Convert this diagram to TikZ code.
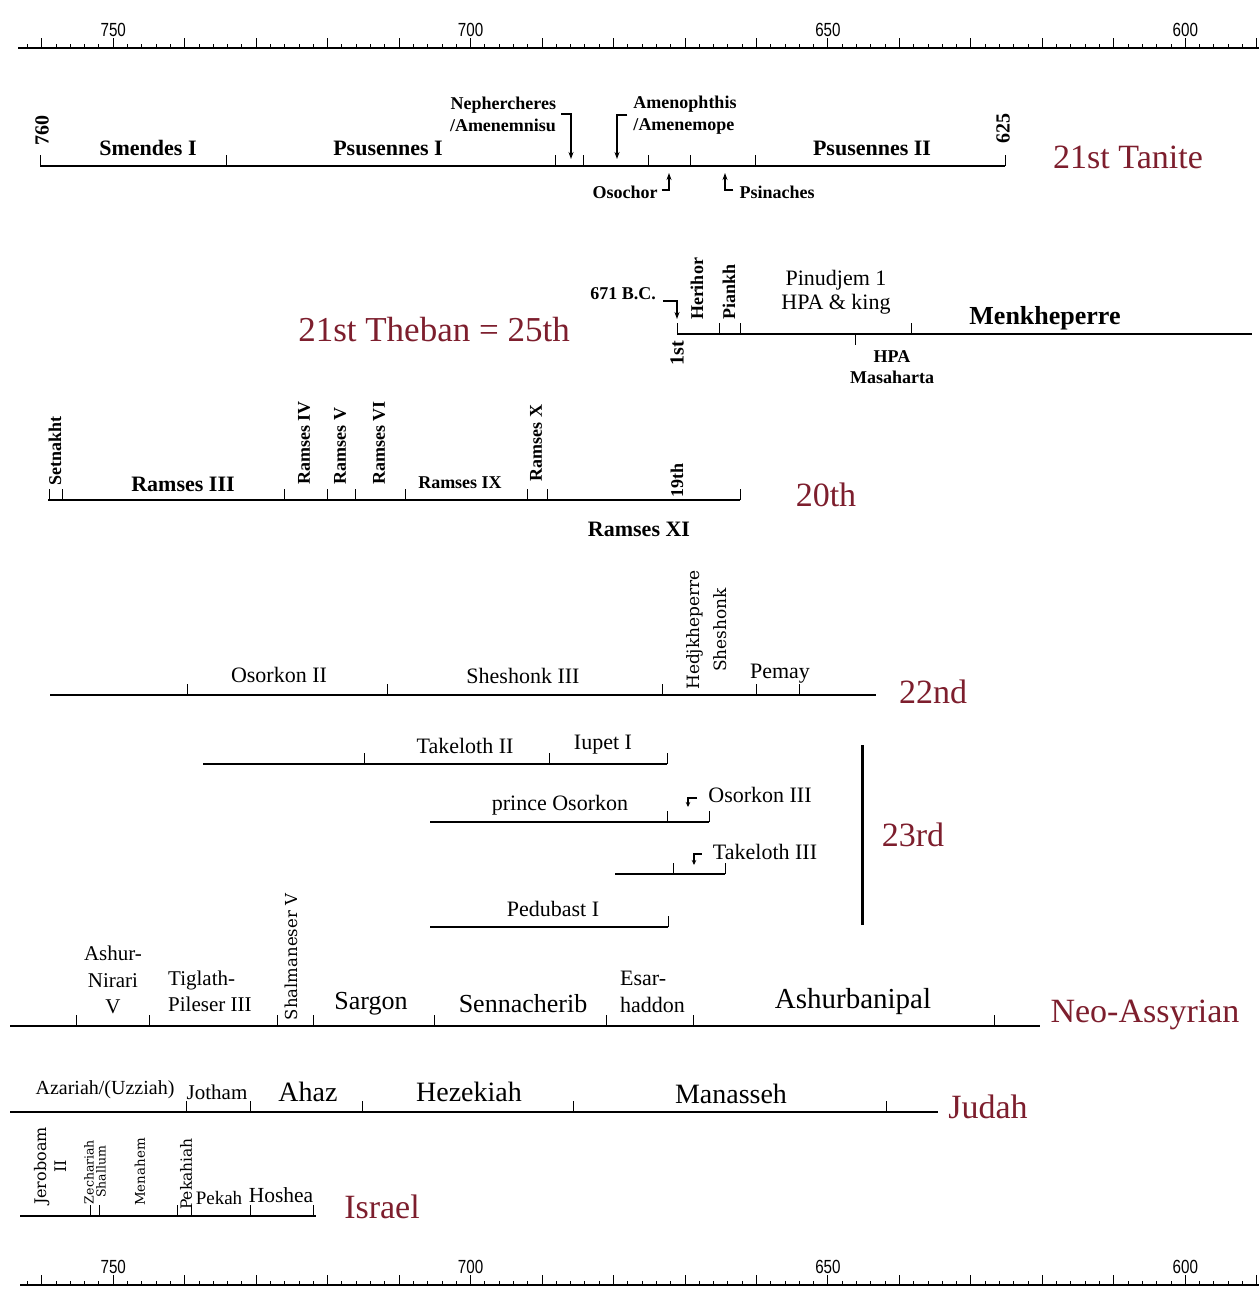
\documentclass[tikz,border=0pt]{standalone}
\usepackage{fontspec}
\usepackage{graphicx}
\setmainfont{Liberation Serif}
\newfontfamily\dvsf{DejaVu Serif}
\newfontfamily\axf{Liberation Sans}
\usetikzlibrary{arrows.meta}
\definecolor{dynred}{RGB}{125,30,45}
\begin{document}
\begin{tikzpicture}[x=1pt,y=-1pt,
  tl/.style={line width=2.6pt},
  tk/.style={line width=1pt},
  axl/.style={line width=1.3pt},
  arr/.style={line width=1.1pt,-{Stealth[length=7pt,width=5pt]}},
  sarr/.style={line width=1.2pt,-{Stealth[length=5pt,width=4.5pt]}},
  B/.style={font=\bfseries\fontsize{22}{24}\selectfont,inner sep=0pt},
  b/.style={font=\bfseries\fontsize{18}{22}\selectfont,inner sep=0pt},
  R/.style={font=\fontsize{22}{24}\selectfont,inner sep=0pt},
  dv/.style={font=\dvsf\fontsize{17}{27}\selectfont,inner sep=0pt},
  dyn/.style={text=dynred,font=\fontsize{34}{38}\selectfont,inner sep=0pt},
  axlab/.style={font=\axf\fontsize{19}{20}\selectfont,inner sep=0pt}
]
\useasboundingbox (0,0) rectangle (1259,1290);
\fill[white] (0,0) rectangle (1259,1290);

% ---------- axes ----------
\draw[axl] (18,48) -- (1259,48);
\draw[axl] (20,1285) -- (1259,1285);
\foreach \yr in {590,592,...,762}{
  \pgfmathsetmacro\xx{470.6+(700-\yr)*7.147}
  \pgfmathsetmacro\hh{mod(\yr,10)==0 ? 10 : 4}
  \draw[tk] (\xx,48) -- (\xx,48-\hh);
  \draw[tk] (\xx,1285) -- (\xx,1285-\hh);
}
\foreach \yr/\nm in {750/a,700/b,650/c,600/d}{
  \pgfmathsetmacro\xx{470.6+(700-\yr)*7.147}
  \node[axlab] (top\nm) at (\xx,30) {\scalebox{0.8}[1]{\yr}};
  \node[axlab] (bot\nm) at (\xx,1267) {\scalebox{0.8}[1]{\yr}};
}

% ---------- 21st Tanite ----------
\draw[tl] (40,166) -- (1005,166);
\foreach \x in {40,226,555,583,648,690,755,1005} \draw[tk] (\x,166) -- (\x,155);
\node[b,font=\bfseries\fontsize{20}{22}\selectfont,rotate=90] (y760) at (42,130) {760};
\node[B] (smendes) at (148,148) {Smendes I};
\node[B] (psus1) at (388,148) {Psusennes I};
\node[b,align=right] (neph) at (503,114) {Nephercheres\\/Amenemnisu};
\node[b,align=left] (amen) at (685,115) {Amenophthis\\/Amenemope};
\node[b] (osoch) at (625,192) {Osochor};
\node[b] (psin) at (777,192) {Psinaches};
\node[B] (psus2) at (872,148) {Psusennes II};
\node[b,font=\bfseries\fontsize{20}{22}\selectfont,rotate=90] (y625) at (1003,128) {625};
\node[dyn] (tanite) at (1128,157) {21st Tanite};
\coordinate (nephpt) at (571,159);
\coordinate (amenpt) at (617,159);
\coordinate (osopt) at (669,173);
\coordinate (psinpt) at (725,173);
\draw[arr] ([xshift=5pt]neph.east) -| (nephpt);
\draw[arr] ([xshift=-6pt]amen.west) -| (amenpt);
\draw[arr] ([xshift=4pt,yshift=2pt]osoch.east) -| (osopt);
\draw[arr] ([xshift=-6pt,yshift=2pt]psin.west) -| (psinpt);

% ---------- 21st Theban ----------
\draw[tl] (677,334) -- (1252,334);
\foreach \x in {677,719,740,911} \draw[tk] (\x,334) -- (\x,323);
\draw[tk] (855,334) -- (855,345);
\node[b] (bc) at (623,294) {671 B.C.};
\coordinate (bcpt) at (677,319);
\draw[arr] ([xshift=7pt,yshift=-7pt]bc.east) -| (bcpt);
\node[b,rotate=90] (herihor) at (697,289) {Herihor};
\node[b,rotate=90] (piankh) at (729,292) {Piankh};
\node[R,align=center] (pinud) at (836,292) {Pinudjem 1\\HPA \& king};
\node[font=\bfseries\fontsize{26}{28}\selectfont,inner sep=0pt] (menk) at (1045,318) {Menkheperre};
\node[b,font=\bfseries\fontsize{20}{22}\selectfont,rotate=90] (first) at (677,353) {1st};
\node[b,align=center,font=\bfseries\fontsize{18}{21}\selectfont] (hpa) at (892,367) {HPA\\Masaharta};
\node[dyn,font=\fontsize{35}{38}\selectfont] (theban) at (434,330) {21st Theban = 25th};

% ---------- 20th ----------
\draw[tl] (48,500) -- (740,500);
\foreach \x in {49,62,284,327,355,405,527,547,740} \draw[tk] (\x,500) -- (\x,489);
\node[b,rotate=90] (setn) at (55,451) {Setnakht};
\node[B] (r3) at (183,484) {Ramses III};
\node[b,rotate=90] (r4) at (304,443) {Ramses IV};
\node[b,rotate=90] (r5) at (340,446) {Ramses V};
\node[b,rotate=90] (r6) at (379,443) {Ramses VI};
\node[b] (r9) at (460,483) {Ramses IX};
\node[b,rotate=90] (r10) at (536,443) {Ramses X};
\node[b,rotate=90] (n19) at (677,480) {19th};
\node[B] (r11) at (639,529) {Ramses XI};
\node[dyn] (d20) at (826,495) {20th};

% ---------- 22nd ----------
\draw[tl] (50,695) -- (876,695);
\foreach \x in {187,387,662,756,799} \draw[tk] (\x,695) -- (\x,684);
\node[R] (o2) at (279,675) {Osorkon II};
\node[R] (s3) at (523,676) {Sheshonk III};
\node[dv,rotate=90,align=center] (hedj) at (707,630) {Hedjkheperre\\Sheshonk};
\node[R] (pemay) at (780,674) {Pemay};
\node[dyn] (d22) at (933,692) {22nd};

% ---------- 23rd ----------
\draw[tl] (203,764) -- (667,764);
\foreach \x in {364,549,667} \draw[tk] (\x,764) -- (\x,753);
\node[R] (tk2) at (465,746) {Takeloth II};
\node[R] (iup) at (603,745) {Iupet I};
\draw[tl] (430,822) -- (709,822);
\foreach \x in {667,709} \draw[tk] (\x,822) -- (\x,811);
\node[R] (posk) at (560,805) {prince Osorkon};
\node[R] (o3) at (760,795) {Osorkon III};
\coordinate (o3pt) at (688,807);
\draw[sarr] ([xshift=-11pt,yshift=-3pt]o3.west) -| (o3pt);
\draw[tl] (615,874) -- (725,874);
\foreach \x in {673,725} \draw[tk] (\x,874) -- (\x,863);
\node[R] (tk3) at (765,852) {Takeloth III};
\coordinate (tk3pt) at (694,865);
\draw[sarr] ([xshift=-11pt,yshift=-2pt]tk3.west) -| (tk3pt);
\draw[tl] (430,927) -- (668,927);
\draw[tk] (668,927) -- (668,916);
\node[R] (ped) at (553,909) {Pedubast I};
\draw[line width=3pt] (862,745) -- (862,925);
\node[dyn] (d23) at (913,835) {23rd};

% ---------- Neo-Assyrian ----------
\draw[tl] (10,1026) -- (1040,1026);
\foreach \x in {76,149,277,313,434,606,693,994} \draw[tk] (\x,1026) -- (\x,1015);
\node[R,align=center,font=\fontsize{21}{26.5}\selectfont] (ashn) at (113,980) {Ashur-\\Nirari\\V};
\node[R,align=left,font=\fontsize{21}{26}\selectfont,anchor=west] (tigl) at (168,991) {Tiglath-\\Pileser III};
\node[dv,font=\dvsf\fontsize{16.5}{20}\selectfont,rotate=90] (shal) at (291,957) {Shalmaneser V};
\node[R,font=\fontsize{26}{28}\selectfont] (sarg) at (371,1004) {Sargon};
\node[R,font=\fontsize{26}{28}\selectfont] (senn) at (523,1004) {Sennacherib};
\node[R,align=left,anchor=west,font=\fontsize{22}{27}\selectfont] (esar) at (620,992) {Esar-\\haddon};
\node[R,font=\fontsize{29}{31}\selectfont] (ashb) at (853,1002) {Ashurbanipal};
\node[dyn] (neo) at (1145,1015) {Neo-Assyrian};

% ---------- Judah ----------
\draw[tl] (10,1112) -- (938,1112);
\foreach \x in {186,250,362,573,886} \draw[tk] (\x,1112) -- (\x,1101);
\node[R,font=\fontsize{20}{22}\selectfont] (az) at (105,1090) {Azariah/(Uzziah)};
\node[R,font=\fontsize{21}{23}\selectfont] (joth) at (217,1092) {Jotham};
\node[R,font=\fontsize{28}{30}\selectfont] (ahaz) at (308,1092) {Ahaz};
\node[R,font=\fontsize{28}{30}\selectfont] (hez) at (469,1092) {Hezekiah};
\node[R,font=\fontsize{28}{30}\selectfont] (man) at (731,1094) {Manasseh};
\node[dyn] (judah) at (988,1107) {Judah};

% ---------- Israel ----------
\draw[tl] (20,1216) -- (316,1216);
\foreach \x in {90,99,177,191,250,313} \draw[tk] (\x,1216) -- (\x,1205);
\node[dv,font=\dvsf\fontsize{16}{20}\selectfont,rotate=90,align=center] (jer) at (50,1166) {Jeroboam\\II};
\node[dv,font=\dvsf\fontsize{12.5}{12}\selectfont,rotate=90,align=center] (zech) at (95,1172) {Zechariah\\Shallum};
\node[dv,font=\dvsf\fontsize{13.4}{15}\selectfont,rotate=90] (men) at (140,1172) {Menahem};
\node[dv,font=\dvsf\fontsize{15.5}{17}\selectfont,rotate=90] (pekh) at (186,1174) {Pekahiah};
\node[R,font=\fontsize{19}{21}\selectfont] (pekah) at (219,1198) {Pekah};
\node[R,font=\fontsize{21.5}{23}\selectfont] (hosh) at (281,1195) {Hoshea};
\node[dyn] (isr) at (382,1207) {Israel};
\end{tikzpicture}
\end{document}
